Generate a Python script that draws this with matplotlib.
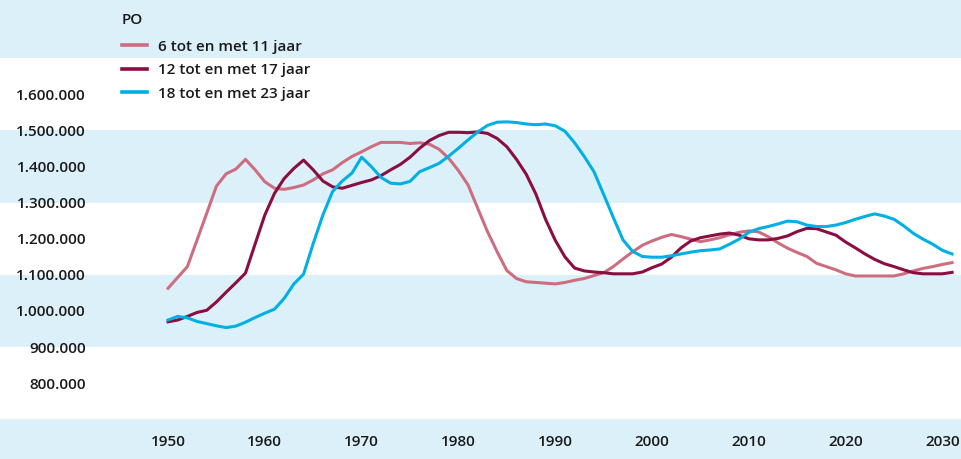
import matplotlib
matplotlib.use("Agg")
import matplotlib.pyplot as plt

years = list(range(1950, 2032))

age_6_11 = [
    1063, 1093, 1123, 1197, 1271, 1346, 1380, 1393, 1420, 1391,
    1358, 1340, 1337, 1342, 1349, 1363, 1380, 1391, 1411, 1428,
    1441, 1455, 1467, 1467, 1467, 1464, 1466, 1462, 1448, 1423,
    1389, 1349, 1284, 1220, 1164, 1112, 1090, 1081, 1079, 1077,
    1075, 1079, 1085, 1090, 1098, 1106, 1123, 1144, 1164, 1182,
    1194, 1204, 1212, 1206, 1199, 1192, 1197, 1203, 1211, 1218,
    1222, 1219, 1206, 1189, 1174, 1162, 1151, 1132, 1123, 1114,
    1103, 1097, 1097, 1097, 1097, 1097, 1103, 1111, 1118, 1123,
    1129, 1134,
]

age_12_17 = [
    970, 975, 985, 996, 1002, 1025, 1052, 1078, 1105, 1186,
    1266, 1326, 1367, 1395, 1418, 1391, 1360, 1344, 1340, 1348,
    1356, 1363, 1375, 1391, 1406, 1426, 1451, 1472, 1486, 1495,
    1495, 1494, 1496, 1492, 1478, 1455, 1420, 1379, 1324, 1254,
    1196, 1150, 1119, 1111, 1108, 1106, 1103, 1103, 1103, 1108,
    1120, 1130, 1149, 1175, 1194, 1203, 1208, 1213, 1216, 1210,
    1200, 1197, 1197, 1201, 1208, 1220, 1229, 1228, 1219, 1210,
    1191, 1175, 1158, 1143, 1131, 1123, 1114, 1106, 1103, 1103,
    1103, 1107,
]

age_18_23 = [
    975, 985, 981, 971, 965, 959, 954, 958, 969, 982,
    994, 1005, 1035, 1075, 1102, 1187, 1266, 1331, 1360, 1382,
    1426, 1400, 1370, 1354, 1352, 1359, 1386, 1397, 1409, 1429,
    1451, 1474, 1496, 1514, 1523, 1524, 1522, 1518, 1516, 1518,
    1513, 1498, 1466, 1428, 1386, 1323, 1259, 1197, 1165, 1151,
    1149, 1149, 1153, 1158, 1163, 1167, 1169, 1172, 1185, 1199,
    1218, 1228, 1234, 1241, 1249, 1247, 1238, 1234, 1234, 1238,
    1245, 1254, 1262, 1269, 1263, 1254, 1236, 1215, 1199, 1185,
    1168, 1158,
]

series_labels = ["6 tot en met 11 jaar", "12 tot en met 17 jaar", "18 tot en met 23 jaar"]
legend_title = "PO"
x_ticks = [1950, 1960, 1970, 1980, 1990, 2000, 2010, 2020, 2030]
y_ticks = [800000, 900000, 1000000, 1100000, 1200000, 1300000, 1400000, 1500000, 1600000]
y_tick_labels = ["800.000", "900.000", "1.000.000", "1.100.000", "1.200.000",
                 "1.300.000", "1.400.000", "1.500.000", "1.600.000"]

colors = ["#cc6e80", "#8a0e42", "#00b0e4"]
band_color = "#dcf0f9"

plt.rcParams["font.family"] = ["Open Sans", "DejaVu Sans"]

fig = plt.figure(figsize=(9.61, 4.59), dpi=100)
ax = fig.add_axes([0, 0, 1, 1])

ax.set_xlim(1932.64, 2031.92)
ax.set_ylim(590000, 1861500)

for lo, hi in [(1700000, 1861500), (1300000, 1500000), (900000, 1100000), (590000, 700000)]:
    ax.axhspan(lo, hi, color=band_color, lw=0, zorder=0)

for vals, c, lab in zip([age_6_11, age_12_17, age_18_23], colors, series_labels):
    ax.plot(years, [v * 1000 for v in vals], color=c, lw=2.2, label=lab,
            solid_joinstyle="round", zorder=3)

for s in ax.spines.values():
    s.set_visible(False)

ax.set_yticks(y_ticks)
ax.set_yticklabels(y_tick_labels)
ax.set_xticks(x_ticks)
ax.set_xticklabels([str(t) for t in x_ticks])
ax.tick_params(axis="y", length=0, pad=-62, labelsize=11, colors="#1a1a1a")
ax.tick_params(axis="x", length=0, pad=-17, labelsize=11, colors="#1a1a1a")
for lbl in ax.get_yticklabels() + ax.get_xticklabels():
    lbl.set_fontweight("semibold")

leg = ax.legend(title=legend_title, loc="upper left", bbox_to_anchor=(111 / 961, 1 - 2 / 459),
                frameon=False, fontsize=11, title_fontsize=11, handlelength=1.65,
                handletextpad=0.7, labelspacing=0.62, borderpad=0.2, alignment="left")
leg._legend_box.sep = 9.4
for t in leg.get_texts():
    t.set_fontweight("semibold")
    t.set_color("#1a1a1a")
leg.get_title().set_fontweight("semibold")
leg.get_title().set_color("#1a1a1a")
for h in leg.legend_handles:
    h.set_linewidth(2.6)

fig.savefig("out.png", dpi=100)
